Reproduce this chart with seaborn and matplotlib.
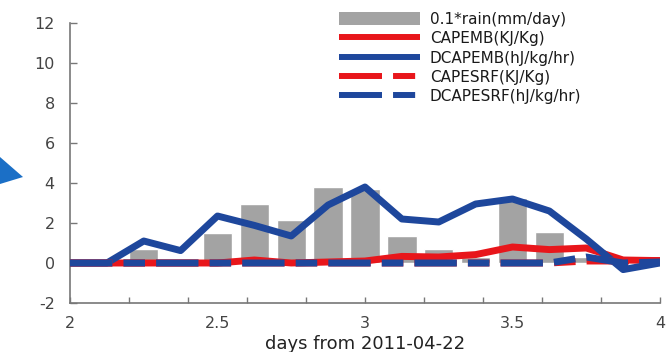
import numpy as np
import pandas as pd
import matplotlib
matplotlib.use("Agg")
import matplotlib.pyplot as plt
from matplotlib.patches import Patch, Polygon
from matplotlib.lines import Line2D
import seaborn as sns

# ---- data ----
days = [2.0, 2.125, 2.25, 2.375, 2.5, 2.625, 2.75, 2.875, 3.0,
        3.125, 3.25, 3.375, 3.5, 3.625, 3.75, 3.875, 4.0]
rain = [0, 0, 0.7, 0, 1.5, 2.93, 2.15, 3.78, 3.7,
        1.35, 0.72, 0.3, 3.23, 1.57, 0.28, 0, 0]
capemb = [0, 0, 0, 0, 0, 0.15, 0, 0.05, 0.1,
          0.33, 0.3, 0.42, 0.8, 0.67, 0.75, 0.15, 0.12]
dcapemb = [0, 0, 1.1, 0.62, 2.35, 1.88, 1.35, 2.9, 3.8,
           2.2, 2.05, 2.95, 3.2, 2.6, 1.2, -0.33, 0.0]
capesrf = [0, 0, 0, 0, 0, 0, 0, 0, 0,
           0, 0, 0, 0, 0, 0.1, 0.1, 0.12]
dcapesrf = [0, 0, 0, 0, 0, 0, 0, 0, 0,
            0, 0, 0, 0, 0, 0.3, 0.0, 0.05]
labels = ["0.1*rain(mm/day)", "CAPEMB(KJ/Kg)", "DCAPEMB(hJ/kg/hr)",
          "CAPESRF(KJ/Kg)", "DCAPESRF(hJ/kg/hr)"]
xtick_labels = ["2", "2.5", "3", "3.5", "4"]
xlabel = "days from 2011-04-22"

sns.set_theme(style="white")
plt.rcParams["font.family"] = ["DejaVu Sans"]
plt.rcParams["axes.unicode_minus"] = False

RED = "#e8161b"
BLUE = "#1e479c"
GRAY = "#a3a3a3"
DASH = (6.1, 1.6, 3.1, 1.6)

W, H = 668, 352
fig = plt.figure(figsize=(W/100, H/100), dpi=100)
ax = fig.add_axes([70/W, 1-303/H, 590/W, 280/H])

df = pd.DataFrame({"days": days, "rain": rain, "capemb": capemb,
                   "dcapemb": dcapemb, "capesrf": capesrf, "dcapesrf": dcapesrf})

sns.barplot(data=df, x="days", y="rain", native_scale=True, width=0.8,
            color=GRAY, saturation=1, ax=ax, zorder=1, errorbar=None)
lw = 5.0
sns.lineplot(data=df, x="days", y="capemb", color=RED, lw=lw, ax=ax, zorder=2,
             solid_capstyle="butt", solid_joinstyle="round")
sns.lineplot(data=df, x="days", y="dcapemb", color=BLUE, lw=lw, ax=ax, zorder=3,
             solid_capstyle="butt", solid_joinstyle="round")
n0 = len(ax.lines)
sns.lineplot(data=df, x="days", y="capesrf", color=RED, lw=lw, ax=ax, zorder=4,
             dash_capstyle="butt")
sns.lineplot(data=df, x="days", y="dcapesrf", color=BLUE, lw=lw, ax=ax, zorder=5,
             dash_capstyle="butt")
for ln in ax.lines[n0:]:
    ln.set_dashes(DASH)

ax.set_xlim(2, 4)
ax.set_ylim(-2, 12)
ax.set_yticks([-2, 0, 2, 4, 6, 8, 10, 12])
ax.xaxis.remove_overlapping_locs = False
ax.set_xticks(np.round(np.arange(2, 4.01, 0.2), 2))
ax.set_xticklabels([])
ax.set_xticks([2, 2.5, 3, 3.5, 4], minor=True)
ax.set_xticklabels(xtick_labels, minor=True)
ax.tick_params(axis="x", which="major", bottom=True, direction="in", length=4,
               width=1, color="#777777")
ax.tick_params(axis="x", which="minor", bottom=True, length=0, pad=9,
               labelsize=11.5, labelcolor="#444444")
ax.tick_params(axis="y", left=True, direction="in", length=5, width=1, color="#777777",
               labelsize=11.5, labelcolor="#444444", pad=11)
ax.set_xlabel(xlabel, fontsize=13, color="#222222", labelpad=3)
ax.set_ylabel("")
for s in ["top", "right"]:
    ax.spines[s].set_visible(False)
for s in ["left", "bottom"]:
    ax.spines[s].set_color("#777777")
    ax.spines[s].set_linewidth(1.2)

handles = [Patch(facecolor=GRAY, edgecolor="none"),
           Line2D([], [], color=RED, lw=4.3, solid_capstyle="butt"),
           Line2D([], [], color=BLUE, lw=4.3, solid_capstyle="butt"),
           Line2D([], [], color=RED, lw=4.3, dashes=(7.2, 1.85, 3.7, 1.85), dash_capstyle="butt"),
           Line2D([], [], color=BLUE, lw=4.3, dashes=(7.2, 1.85, 3.7, 1.85), dash_capstyle="butt")]
leg = fig.legend(handles, labels, loc="upper left",
                 bbox_to_anchor=(339/W, 1-12/H),
                 frameon=False, fontsize=11, handlelength=5.3, handleheight=0.9,
                 labelspacing=0.28, handletextpad=0.65, borderaxespad=0,
                 borderpad=0)
for t in leg.get_texts():
    t.set_color("#1a1a1a")

# arrow shape at left
tri = Polygon([(0/W, 1-157/H), (23/W, 1-177/H), (0/W, 1-184/H)],
              closed=True, transform=fig.transFigure, facecolor="#1b6fc6",
              edgecolor="none")
fig.patches.append(tri)

fig.savefig("out.png", dpi=100)
